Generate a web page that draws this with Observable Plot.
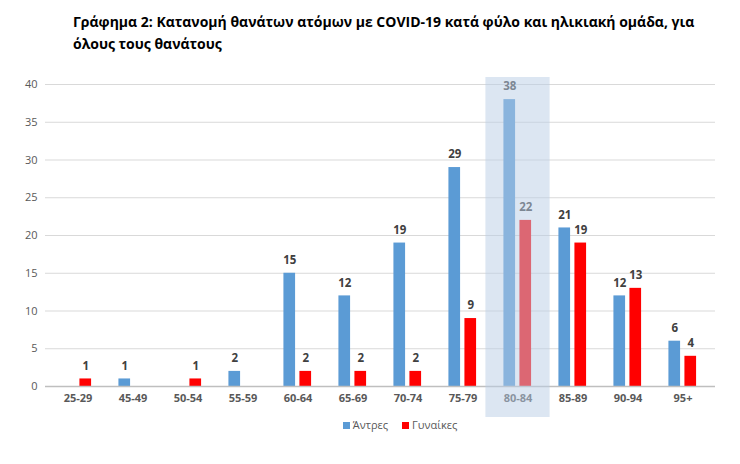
<!DOCTYPE html>
<html>
<head>
<meta charset="utf-8">
<script src="https://cdn.jsdelivr.net/npm/d3@7"></script>
<script src="https://cdn.jsdelivr.net/npm/@observablehq/plot@0.6"></script>
<style>
  html, body { margin: 0; padding: 0; background: #fff; }
  body { width: 740px; height: 464px; position: relative; overflow: hidden; font-family: "Open Sans", sans-serif; }
  #title { position: absolute; left: 73px; top: 11px; width: 620px; font-weight: bold; font-size: 14px; line-height: 22px; color: #000; }
  #title div { text-align: justify; text-align-last: justify; white-space: nowrap; }
  #title div.l2 { text-align-last: left; }
  #chart { position: absolute; left: 0; top: 62px; }
  #legend { position: absolute; top: 417px; left: 30px; width: 740px; display: flex; justify-content: center; gap: 14px; font-size: 11px; color: #595959; }
  #legend span.sw { display: inline-block; width: 7px; height: 7px; margin-right: 3px; vertical-align: 0px; }
</style>
</head>
<body>
<div id="title">
  <div class="l1">Γράφημα 2: Κατανομή θανάτων ατόμων με COVID-19 κατά φύλο και ηλικιακή ομάδα, για</div>
  <div class="l2">όλους τους θανάτους</div>
</div>
<div id="chart"></div>
<div id="legend"></div>
<script>
const ages = ["25-29","45-49","50-54","55-59","60-64","65-69","70-74","75-79","80-84","85-89","90-94","95+"];
const men = [0,1,0,2,15,12,19,29,38,21,12,6];
const women = [1,0,1,0,2,2,2,9,22,19,13,4];
const seriesNames = ["Άντρες","Γυναίκες"];
const seriesColors = ["#5b9bd5","#ff0000"];
const yTicks = [0,5,10,15,20,25,30,35,40];
const highlightAge = "80-84";

const data = [];
ages.forEach((a, i) => {
  data.push({age: a, series: seriesNames[0], value: men[i]});
  data.push({age: a, series: seriesNames[1], value: women[i]});
});
const menData = data.filter(d => d.series === seriesNames[0]);
const womenData = data.filter(d => d.series === seriesNames[1]);

const W = 740, mL = 45, mR = 25;
const half = (W - mL - mR) / ages.length / 2;

const chart = Plot.plot({
  width: W,
  height: 356,
  marginLeft: mL,
  marginRight: mR,
  marginTop: 22,
  marginBottom: 32,
  style: {fontFamily: "Open Sans, sans-serif", fontSize: "11px", background: "transparent"},
  x: {domain: ages, padding: 0, axis: null},
  y: {domain: [0, 40], axis: null},
  marks: [
    Plot.gridY(yTicks, {stroke: "#d9d9d9", strokeOpacity: 1}),
    Plot.axisY(yTicks, {tickSize: 0, tickPadding: 8, fill: "#595959", fontSize: 11, label: null}),
    Plot.axisX({tickSize: 0, tickPadding: 8, fill: "#595959", fontWeight: "bold", fontSize: 11, label: null}),
    Plot.barY(menData, {x: "age", y: "value", fill: seriesColors[0], insetLeft: half - 14.5, insetRight: half + 2}),
    Plot.barY(womenData, {x: "age", y: "value", fill: seriesColors[1], insetLeft: half + 1.5, insetRight: half - 14}),
    Plot.ruleY([0], {stroke: "#bfbfbf", strokeWidth: 1.5}),
    Plot.text(menData.filter(d => d.value > 0), {x: "age", y: "value", text: "value", dx: -8.25, dy: -13, fill: "#404040", fontWeight: "bold", fontSize: 11.5}),
    Plot.text(womenData.filter(d => d.value > 0), {x: "age", y: "value", text: "value", dx: 7.75, dy: -13, fill: "#404040", fontWeight: "bold", fontSize: 11.5}),
    Plot.barY([highlightAge], {x: d => d, y1: 0, y2: 40, insetTop: -7, insetBottom: -31, insetLeft: -4.6, insetRight: -4.6, fill: "rgb(185,205,230)", fillOpacity: 0.5})
  ]
});
document.getElementById("chart").appendChild(chart);

const legend = document.getElementById("legend");
seriesNames.forEach((n, i) => {
  const item = document.createElement("div");
  item.innerHTML = `<span class="sw" style="background:${seriesColors[i]}"></span>${n}`;
  legend.appendChild(item);
});
</script>
</body>
</html>
